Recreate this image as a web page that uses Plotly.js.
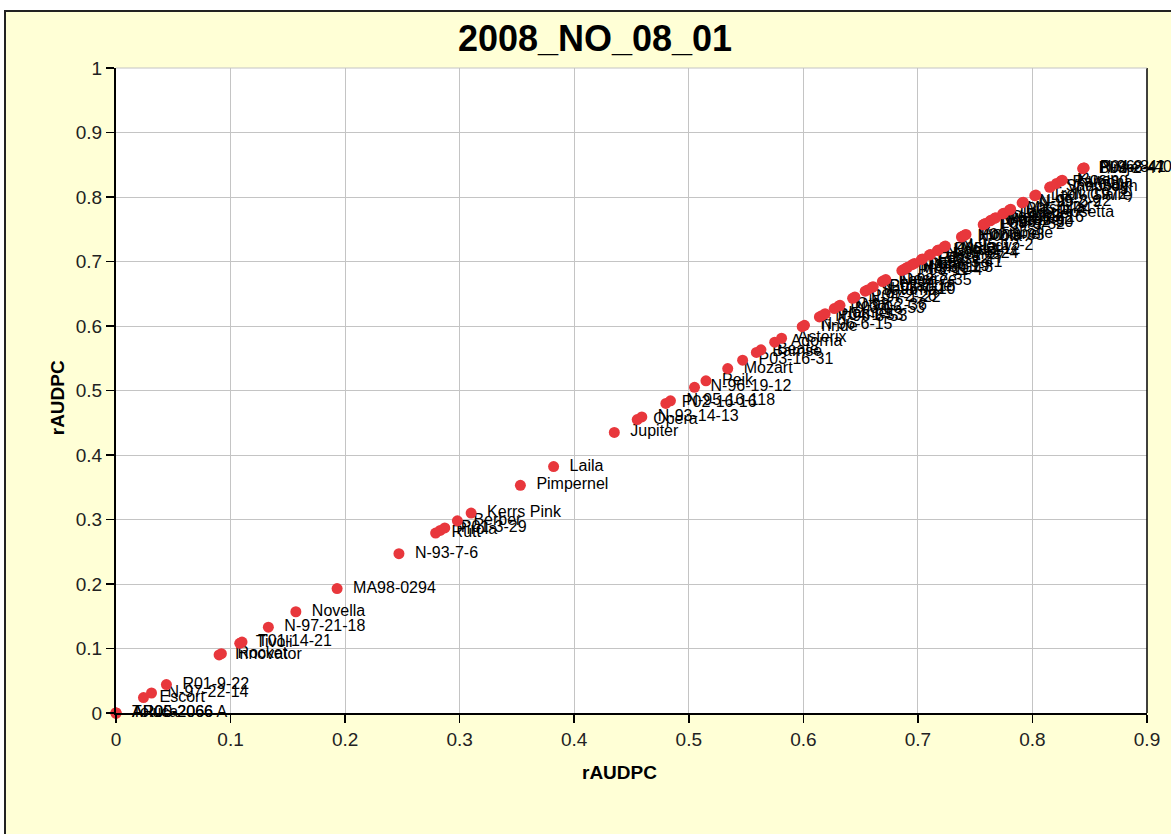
<!DOCTYPE html>
<html>
<head>
<meta charset="utf-8">
<script src="https://cdn.plot.ly/plotly-3.0.1.min.js"></script>
<style>
  html, body { margin: 0; padding: 0; background: #ffffff; width: 1171px; height: 834px; overflow: hidden; }
  #wrap { position: absolute; left: 4px; top: 10px; width: 1165px; height: 822px; border-top: 2px solid #222; border-left: 2px solid #222; }
  #chart { width: 1165px; height: 822px; }
</style>
</head>
<body>
<div id="wrap"><div id="chart"></div></div>
<script>
// Variety names (point labels)
const varieties = [
  "Toluca", "AR00-2066", "AR05-2066 A",
  "Escort", "N-97-22-14", "R01-9-22",
  "Innovator", "Rocket", "Tivoli", "T01-14-21",
  "N-97-21-18", "Novella", "MA98-0294", "N-93-7-6",
  "Rutt", "Pirola", "P01-3-29", "Berber", "Kerrs Pink",
  "Pimpernel", "Laila", "Jupiter", "Opera", "N-93-14-13",
  "P02-16-16", "N-95-16-118", "N-96-19-12", "Peik", "Mozart",
  "P03-16-31", "Bamse", "Beate", "Adorna", "Asterix",
  "Tinde", "N-96-6-15",
  "N-96-8-53", "P04-1-53", "Hamlet", "P03-06-53", "N-98-2-36",
  "Ottar", "N-97-1-22", "P04-2-26", "Saturna", "N-95-4-10",
  "Gullauge", "P02-7-18", "Folva",
  "N-98-7-35", "Desiree", "P03-11-4",
  "Mandel", "N-96-11-8", "P04-6-19",
  "Ditta", "N-97-3-41", "Fakse",
  "P01-12-7", "Hermes", "N-99-5-24",
  "Kardal", "P05-3-12", "Melody",
  "N-95-12-2", "Nicola",
  "P02-9-33", "Fontane", "Annabelle", "P04-9-52",
  "Laura", "N-96-2-30", "Marabel",
  "P03-4-62", "Cecile", "N-97-8-16", "Juliette",
  "Lady Rosetta", "P05-1-44", "Mashilla", "N-99-2-9",
  "N-95-3-22", "Lady Claire", "Troll (1972)", "Shepody",
  "Van Gogh", "Ramona", "Kuras", "Rosing", "P03-2-47",
  "Bintje", "N-96-8-40", "P04-8-41"
];

// rAUDPC values (same measure on both axes)
const raudpcX = [
  0.000, 0.000, 0.000,
  0.024, 0.031, 0.044,
  0.090, 0.092, 0.108, 0.110,
  0.133, 0.157, 0.193, 0.247,
  0.279, 0.283, 0.287, 0.298, 0.310,
  0.353, 0.382, 0.435, 0.455, 0.459,
  0.480, 0.484, 0.505, 0.515, 0.534,
  0.547, 0.559, 0.563, 0.575, 0.581,
  0.599, 0.601,
  0.614, 0.616, 0.619, 0.627, 0.631,
  0.632, 0.643, 0.645, 0.654, 0.656,
  0.660, 0.661, 0.669,
  0.670, 0.672, 0.686,
  0.688, 0.690, 0.691,
  0.695, 0.697, 0.703,
  0.704, 0.710, 0.711,
  0.717, 0.718, 0.723,
  0.724, 0.738,
  0.739, 0.741, 0.742, 0.757,
  0.758, 0.759, 0.763,
  0.764, 0.767, 0.768, 0.774,
  0.775, 0.780, 0.781, 0.791,
  0.792, 0.802, 0.803, 0.815,
  0.816, 0.821, 0.825, 0.826, 0.844,
  0.844, 0.845, 0.845
];
const raudpcY = raudpcX.slice();

const axisTitle = "rAUDPC";
const chartTitle = "2008_NO_08_01";
const xTicks = [0, 0.1, 0.2, 0.3, 0.4, 0.5, 0.6, 0.7, 0.8, 0.9];
const xTickText = ["0", "0.1", "0.2", "0.3", "0.4", "0.5", "0.6", "0.7", "0.8", "0.9"];
const yTicks = [0, 0.1, 0.2, 0.3, 0.4, 0.5, 0.6, 0.7, 0.8, 0.9, 1];
const yTickText = ["0", "0.1", "0.2", "0.3", "0.4", "0.5", "0.6", "0.7", "0.8", "0.9", "1"];

const plain = '"Liberation Sans", Arial, sans-serif';

// Label layer: invisible, wider markers push the labels a little further right of the dots
const labelTrace = {
  type: 'scatter',
  mode: 'markers+text',
  x: raudpcX,
  y: raudpcY,
  text: varieties,
  textposition: 'middle right',
  textfont: { family: plain, size: 16, color: '#000000' },
  marker: { color: 'rgba(0,0,0,0)', size: 24, line: { width: 0 } },
  cliponaxis: false,
  hoverinfo: 'skip'
};

// Dot layer
const dotTrace = {
  type: 'scatter',
  mode: 'markers',
  x: raudpcX,
  y: raudpcY,
  text: varieties,
  marker: { color: '#E8373C', size: 11, line: { width: 0 } },
  cliponaxis: false,
  hoverinfo: 'x+y+text'
};

const layout = {
  width: 1165,
  height: 822,
  margin: { l: 110, r: 24, t: 56, b: 121 },
  paper_bgcolor: '#FFFFD6',
  plot_bgcolor: '#FFFFFF',
  showlegend: false,
  title: {
    text: '<b>' + chartTitle + '</b>',
    font: { family: plain, size: 36, color: '#000000' },
    x: 0.5056, xref: 'container', xanchor: 'center',
    y: 0.968, yref: 'container', yanchor: 'middle'
  },
  xaxis: {
    range: [0, 0.9],
    tickvals: xTicks,
    ticktext: xTickText,
    showgrid: true,
    gridcolor: '#C4C4C4',
    gridwidth: 1,
    zeroline: false,
    showline: true,
    linecolor: '#000000',
    linewidth: 2,
    ticks: 'outside',
    ticklen: 8,
    tickwidth: 1.5,
    tickcolor: '#000000',
    tickfont: { family: plain, size: 19, color: '#222222' },
    fixedrange: true
  },
  yaxis: {
    range: [0, 1],
    tickvals: yTicks,
    ticktext: yTickText,
    showgrid: true,
    gridcolor: '#C4C4C4',
    gridwidth: 1,
    zeroline: false,
    showline: true,
    linecolor: '#000000',
    linewidth: 2,
    ticks: 'outside',
    ticklen: 8,
    tickwidth: 1.5,
    tickcolor: '#000000',
    tickfont: { family: plain, size: 19, color: '#222222' },
    fixedrange: true
  },
  annotations: [
    {
      text: '<b>' + axisTitle + '</b>', xref: 'paper', yref: 'paper',
      x: 0.4888, y: -0.093, xanchor: 'center', yanchor: 'middle', showarrow: false,
      font: { family: plain, size: 19, color: '#000000' }
    },
    {
      text: '<b>' + axisTitle + '</b>', xref: 'paper', yref: 'paper',
      x: -0.0572, y: 0.488, xanchor: 'center', yanchor: 'middle', showarrow: false, textangle: -90,
      font: { family: plain, size: 19, color: '#000000' }
    }
  ],
  shapes: [
    { type: 'line', xref: 'paper', yref: 'paper', x0: 1, x1: 1, y0: 0, y1: 1, line: { color: '#000000', width: 1.5 } },
    { type: 'line', xref: 'paper', yref: 'paper', x0: 0, x1: 1, y0: 1, y1: 1, line: { color: '#C4C4C4', width: 1 } }
  ]
};

Plotly.newPlot('chart', [labelTrace, dotTrace], layout, { displayModeBar: false, staticPlot: true });
</script>
</body>
</html>
